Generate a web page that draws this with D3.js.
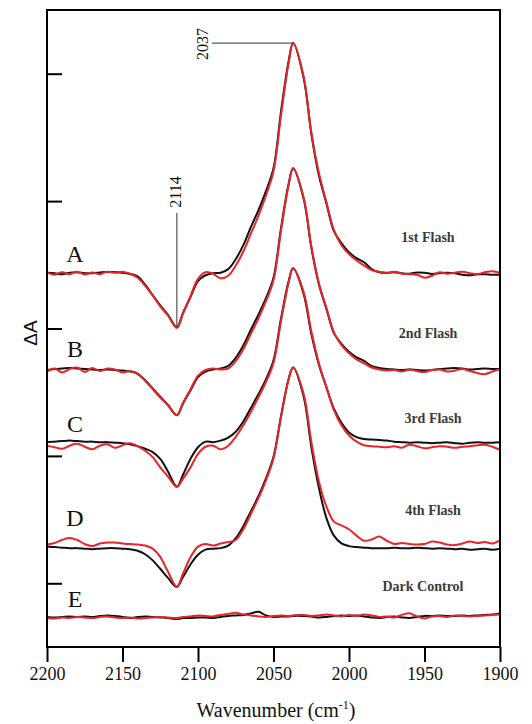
<!DOCTYPE html>
<html>
<head>
<meta charset="utf-8">
<script src="https://cdn.jsdelivr.net/npm/d3@7"></script>
<style>
  body { margin: 0; background: #fff; }
  svg text { font-family: "Liberation Serif", "DejaVu Serif", serif; }
</style>
</head>
<body>
<div id="main"></div>
<script>
// wavenumber grid (cm-1), shared by every trace
const wavenumbers = [2200, 2195, 2190, 2185, 2180, 2175, 2170, 2165, 2160, 2155, 2150, 2145, 2140, 2135, 2130, 2125, 2120,
  2114, 2110, 2105, 2100, 2095, 2090, 2085, 2080, 2075, 2070, 2065, 2060, 2055, 2050, 2045, 2040,
  2037, 2030, 2025, 2020, 2015, 2010, 2005, 2000, 1995, 1990, 1985, 1980, 1975, 1970, 1965, 1960,
  1955, 1950, 1945, 1940, 1935, 1930, 1925, 1920, 1915, 1910, 1905, 1900];

// dA (x1e-4), relative to each trace's own baseline
const flash1Black = [0.02, 0.00, -0.04, 0.02, 0.04, 0.00, 0.00, 0.03, 0.05, 0.04, 0.02, -0.03, -0.12, -0.45, -0.86, -1.26, -1.62,
  -2.12, -1.57, -0.94, -0.31, -0.08, 0.00, 0.02, 0.16, 0.55, 1.10, 1.81, 2.47, 3.22, 4.12, 6.36, 8.32,
  9.03, 7.65, 5.49, 3.85, 2.75, 1.65, 1.18, 0.82, 0.59, 0.43, 0.16, 0.04, 0.02, 0.04, 0.00, -0.02,
  0.03, 0.02, -0.03, 0.00, 0.02, 0.00, -0.06, -0.08, -0.04, -0.04, -0.06, -0.06];
const flash1Red = [0.02, -0.06, 0.04, -0.04, 0.06, -0.05, 0.03, -0.04, 0.06, 0.02, 0.06, -0.02, -0.18, -0.50, -0.88, -1.30, -1.65,
  -2.15, -1.60, -0.90, -0.22, 0.04, -0.02, -0.20, -0.10, 0.30, 0.85, 1.55, 2.25, 3.05, 4.00, 6.20, 8.25,
  9.03, 7.70, 5.55, 3.95, 2.80, 1.70, 1.10, 0.75, 0.50, 0.30, 0.12, 0.06, 0.00, 0.06, -0.02, -0.04,
  -0.06, -0.18, -0.10, 0.04, -0.02, 0.02, 0.06, 0.00, -0.04, 0.04, 0.08, 0.02];

const flash2Black = [0.00, 0.04, 0.06, 0.08, 0.06, 0.04, 0.02, 0.00, 0.02, 0.00, -0.02, -0.06, -0.14, -0.40, -0.72, -1.05, -1.36,
  -1.77, -1.32, -0.80, -0.28, -0.06, 0.02, 0.06, 0.16, 0.48, 0.96, 1.58, 2.17, 2.82, 3.62, 5.58, 7.30,
  7.92, 6.71, 4.82, 3.38, 2.41, 1.45, 1.03, 0.72, 0.50, 0.36, 0.16, 0.08, 0.04, 0.02, 0.00, 0.02,
  0.00, -0.02, 0.00, 0.04, 0.06, 0.08, 0.06, 0.02, 0.04, 0.06, 0.04, 0.04];
const flash2Red = [-0.06, 0.06, -0.10, 0.04, 0.10, -0.08, 0.08, -0.04, 0.06, 0.02, -0.10, -0.04, -0.16, -0.42, -0.75, -1.08, -1.38,
  -1.77, -1.30, -0.76, -0.22, 0.00, 0.06, 0.02, 0.06, 0.36, 0.82, 1.42, 2.02, 2.70, 3.52, 5.48, 7.25,
  7.92, 6.76, 4.88, 3.42, 2.44, 1.48, 0.98, 0.66, 0.42, 0.26, 0.10, 0.02, -0.02, 0.00, -0.06, 0.02,
  -0.04, -0.08, 0.00, 0.02, -0.06, -0.02, 0.04, -0.04, -0.12, -0.16, -0.06, 0.04];

const flash3Black = [0.04, 0.06, 0.08, 0.10, 0.08, 0.06, 0.06, 0.04, 0.04, 0.02, 0.00, -0.04, -0.12, -0.22, -0.35, -0.62, -1.10,
  -1.71, -1.25, -0.62, -0.16, 0.06, 0.04, 0.10, 0.22, 0.45, 0.85, 1.38, 1.92, 2.50, 3.25, 4.90, 6.35,
  6.86, 5.85, 4.30, 3.10, 2.20, 1.35, 0.80, 0.42, 0.24, 0.16, 0.14, 0.12, 0.10, 0.06, 0.04, 0.02,
  0.04, 0.02, 0.00, 0.02, 0.04, 0.00, -0.02, 0.02, 0.04, 0.02, 0.02, 0.04];
const flash3Red = [-0.10, -0.16, -0.22, -0.10, -0.02, -0.14, -0.24, -0.10, -0.04, -0.18, -0.08, 0.00, -0.12, -0.30, -0.55, -0.95, -1.30,
  -1.71, -1.40, -0.95, -0.42, -0.14, -0.10, -0.24, -0.10, 0.25, 0.70, 1.22, 1.80, 2.40, 3.15, 4.80, 6.30,
  6.86, 5.92, 4.40, 3.15, 2.20, 1.30, 0.70, 0.30, 0.06, -0.08, -0.12, -0.14, -0.16, -0.12, -0.18, -0.06,
  -0.12, -0.20, -0.16, -0.12, -0.14, -0.18, -0.14, -0.12, -0.08, -0.06, -0.14, -0.26];

const flash4Black = [0.02, 0.00, -0.02, -0.04, -0.04, -0.06, -0.08, -0.06, -0.04, -0.04, -0.06, -0.08, -0.14, -0.28, -0.52, -0.85, -1.20,
  -1.56, -1.18, -0.68, -0.30, -0.10, -0.06, -0.04, 0.06, 0.35, 0.82, 1.40, 2.00, 2.70, 3.55, 5.15, 6.60,
  7.05, 5.90, 3.95, 2.35, 1.15, 0.45, 0.15, 0.04, 0.00, -0.02, -0.04, -0.04, -0.04, -0.02, -0.04, -0.04,
  -0.02, -0.04, -0.06, -0.04, -0.06, -0.08, -0.06, -0.10, -0.08, -0.06, -0.10, -0.06];
const flash4Red = [0.10, 0.16, 0.28, 0.36, 0.28, 0.12, 0.04, 0.14, 0.18, 0.18, 0.14, 0.12, 0.10, 0.06, -0.06, -0.38, -0.95,
  -1.56, -1.05, -0.40, 0.02, 0.12, 0.06, 0.14, 0.20, 0.28, 0.70, 1.30, 1.92, 2.62, 3.48, 5.10, 6.58,
  7.05, 6.00, 4.15, 2.60, 1.60, 1.00, 0.85, 0.70, 0.45, 0.25, 0.30, 0.42, 0.25, 0.12, 0.16, 0.12,
  0.10, 0.12, 0.22, 0.18, 0.10, 0.08, 0.14, 0.22, 0.16, 0.20, 0.14, 0.26];

const darkBlack = [0.00, -0.02, 0.00, 0.02, 0.00, 0.02, 0.00, 0.04, 0.06, 0.04, 0.00, -0.04, 0.00, 0.02, 0.00, -0.02, -0.04,
  -0.08, -0.04, -0.04, -0.02, -0.02, -0.04, 0.00, 0.04, 0.06, 0.08, 0.14, 0.20, 0.06, 0.00, 0.02, 0.02,
  0.04, 0.04, 0.02, -0.02, 0.00, 0.04, 0.06, 0.04, 0.06, 0.02, -0.02, -0.04, 0.00, 0.02, -0.02, -0.04,
  0.00, 0.04, 0.04, 0.06, 0.04, 0.04, 0.06, 0.04, 0.06, 0.08, 0.10, 0.14];
const darkRed = [-0.04, -0.06, -0.02, -0.04, 0.00, -0.02, -0.04, 0.00, 0.02, -0.02, -0.04, -0.02, -0.06, -0.04, -0.02, 0.00, -0.02,
  -0.04, 0.00, 0.02, 0.06, 0.04, 0.02, 0.08, 0.12, 0.16, 0.10, 0.06, 0.02, 0.00, 0.04, 0.06, 0.04,
  0.06, 0.08, 0.04, 0.06, 0.10, 0.06, 0.02, 0.08, 0.04, 0.10, 0.06, 0.00, 0.02, -0.02, 0.08, 0.14,
  0.02, -0.06, 0.02, 0.04, 0.00, 0.06, 0.04, 0.02, 0.04, 0.06, 0.08, 0.10];

// stacking offsets (x1e-4) and labels, top to bottom
const traceLetters = ["A", "B", "C", "D", "E"];
const traceNames = ["1st Flash", "2nd Flash", "3rd Flash", "4th Flash", "Dark Control"];
const traceOffsets = [14.67, 10.87, 8.0, 3.92, 1.18];
const blackTraces = [flash1Black, flash2Black, flash3Black, flash4Black, darkBlack];
const redTraces = [flash1Red, flash2Red, flash3Red, flash4Red, darkRed];

const xTicks = [2200, 2150, 2100, 2050, 2000, 1950, 1900];
const yTicks = [2.5, 7.5, 12.5, 17.5, 22.5];
const peakMarks = [{ wn: 2037, trace: 0 }, { wn: 2114, trace: 0 }];

const width = 532, height = 724;
const margin = { top: 10, right: 32, bottom: 77, left: 47 };

const svg = d3.select("#main").append("svg")
  .attr("width", width)
  .attr("height", height);

const x = d3.scaleLinear().domain([2200, 1900]).range([margin.left, width - margin.right]);
const y = d3.scaleLinear().domain([0, 25]).range([height - margin.bottom, margin.top]);

const valueAt = function (series, wn) {
  return series[wavenumbers.indexOf(wn)];
};

//Traces: black first, red on top.
const line = d3.line().curve(d3.curveCatmullRom.alpha(0.5));
const drawTrace = function (series, offset, color) {
  svg.append("path")
    .attr("d", line(wavenumbers.map((w, i) => [x(w), y(series[i] + offset)])))
    .attr("fill", "none")
    .attr("stroke", color)
    .attr("stroke-width", 2)
    .attr("stroke-linejoin", "round");
};
traceOffsets.forEach(function (off, i) {
  drawTrace(blackTraces[i], off, "#111");
  drawTrace(redTraces[i], off, "#e8242b");
});

//Frame.
svg.append("rect")
  .attr("x", x(2200))
  .attr("y", y(25))
  .attr("width", x(1900) - x(2200))
  .attr("height", y(0) - y(25))
  .attr("fill", "none")
  .attr("stroke", "#000")
  .attr("stroke-width", 2);

//Bottom axis, ticks outward.
const xAxis = svg.append("g")
  .attr("transform", "translate(0," + y(0) + ")")
  .call(d3.axisBottom(x).tickValues(xTicks).tickSize(15).tickPadding(5).tickFormat(d3.format("d")));
xAxis.select(".domain").remove();
xAxis.selectAll("line").attr("stroke-width", 2);
xAxis.selectAll("text")
  .attr("font-size", 18)
  .attr("font-family", "Liberation Serif, serif")
  .attr("fill", "#111");

//Left axis, unlabeled ticks pointing inward.
const yAxis = svg.append("g")
  .attr("transform", "translate(" + x(2200) + ",0)")
  .call(d3.axisRight(y).tickValues(yTicks).tickSize(15).tickFormat(""));
yAxis.select(".domain").remove();
yAxis.selectAll("line").attr("stroke-width", 2);

//Axis titles.
const xTitle = svg.append("text")
  .attr("x", 276)
  .attr("y", 717)
  .attr("text-anchor", "middle")
  .attr("font-size", 20)
  .attr("fill", "#111");
xTitle.append("tspan").text("Wavenumber (cm");
xTitle.append("tspan").attr("dy", -8).attr("font-size", 12).text("-1");
xTitle.append("tspan").attr("dy", 8).text(")");

svg.append("text")
  .attr("transform", "translate(37,333) rotate(-90)")
  .attr("text-anchor", "middle")
  .style("font-family", "Liberation Sans, Arial, sans-serif")
  .attr("font-size", 19)
  .attr("fill", "#111")
  .text("\u0394A");

//Trace letters and names.
const letterY = [253, 348, 423, 517, 598];
const nameX = [428, 428, 433, 433, 423];
const nameY = [237, 333, 418, 510, 586];
traceLetters.forEach(function (t, i) {
  svg.append("text")
    .attr("x", 75)
    .attr("y", letterY[i] + 9)
    .attr("text-anchor", "middle")
    .attr("font-size", 24)
    .attr("fill", "#111")
    .text(t);
  svg.append("text")
    .attr("x", nameX[i])
    .attr("y", nameY[i] + 5)
    .attr("text-anchor", "middle")
    .attr("font-size", 14)
    .attr("font-weight", "bold")
    .attr("fill", "#3a3a3a")
    .text(traceNames[i]);
});

//Peak annotations.
const p0 = peakMarks[0];
const p0y = y(valueAt(blackTraces[p0.trace], p0.wn) + traceOffsets[p0.trace]);
svg.append("line")
  .attr("x1", 212).attr("x2", x(p0.wn))
  .attr("y1", p0y).attr("y2", p0y)
  .attr("stroke", "#333").attr("stroke-width", 1);
svg.append("text")
  .attr("transform", "translate(" + 208 + "," + (p0y + 1) + ") rotate(-90)")
  .attr("text-anchor", "middle")
  .attr("font-size", 16)
  .attr("fill", "#111")
  .text(p0.wn);

const p1 = peakMarks[1];
const p1y = y(valueAt(blackTraces[p1.trace], p1.wn) + traceOffsets[p1.trace]);
svg.append("line")
  .attr("x1", x(p1.wn)).attr("x2", x(p1.wn))
  .attr("y1", 213).attr("y2", p1y)
  .attr("stroke", "#333").attr("stroke-width", 1);
svg.append("text")
  .attr("transform", "translate(" + (x(p1.wn) + 4) + ",192) rotate(-90)")
  .attr("text-anchor", "middle")
  .attr("font-size", 16)
  .attr("fill", "#111")
  .text(p1.wn);
</script>
</body>
</html>
